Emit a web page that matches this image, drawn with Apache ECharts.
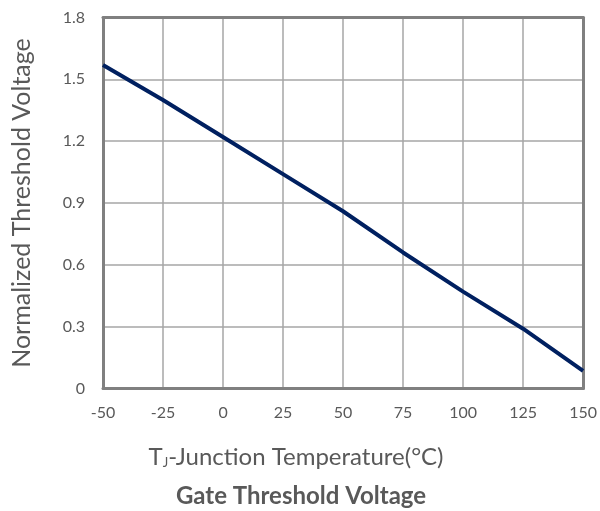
<!DOCTYPE html>
<html>
<head>
<meta charset="utf-8">
<script src="https://cdn.jsdelivr.net/npm/echarts@6/dist/echarts.min.js"></script>
<style>
html,body{margin:0;padding:0;background:#fff;}
#chart{width:600px;height:511px;}
</style>
</head>
<body>
<div id="chart"></div>
<script>
// Data
const temperature = [-50, -25, 0, 25, 50, 75, 100, 125, 150];
const normalizedVth = [1.57, 1.40, 1.22, 1.04, 0.86, 0.66, 0.47, 0.29, 0.085];
const xTickLabels = ['-50', '-25', '0', '25', '50', '75', '100', '125', '150'];
const yTickLabels = ['0', '0.3', '0.6', '0.9', '1.2', '1.5', '1.8'];
const chartTitle = 'Gate Threshold Voltage';
const yAxisName = 'Normalized Threshold Voltage';

const FONT = 'Lato';
const TXT = '#595959';
const FRAME = '#808080';
const GRIDC = '#a6a6a6';

const xMin = Number(xTickLabels[0]), xMax = Number(xTickLabels[xTickLabels.length - 1]);
const xStep = Number(xTickLabels[1]) - xMin;
const yMin = Number(yTickLabels[0]), yMax = Number(yTickLabels[yTickLabels.length - 1]);
const yStep = Number(yTickLabels[1]) - yMin;

const chart = echarts.init(document.getElementById('chart'), null, {renderer: 'canvas'});
chart.setOption({
  animation: false,
  backgroundColor: '#fff',
  title: [
    {
      text: '{n|T}{s|J}{n|-Junction Temperature(°C)}',
      left: 291, top: 440, textAlign: 'center',
      textStyle: {
        fontWeight: 'normal',
        rich: {
          n: {fontFamily: FONT, fontSize: 24, fontWeight: 'normal', color: TXT},
          s: {fontFamily: FONT, fontSize: 13, fontWeight: 'normal', color: TXT, verticalAlign: 'bottom', padding: [9, 0, 0, 0]}
        }
      }
    },
    {
      text: chartTitle,
      left: 296, top: 479, textAlign: 'center',
      textStyle: {fontFamily: FONT, fontSize: 24, fontWeight: 'bold', color: TXT}
    }
  ],
  grid: {left: 103, right: 16, top: 17.5, bottom: 122.5, containLabel: false},
  xAxis: [
    {
      type: 'value', min: xMin, max: xMax, interval: xStep,
      axisLine: {show: true, onZero: false, lineStyle: {color: FRAME, width: 3}},
      axisTick: {show: false},
      splitLine: {show: true, lineStyle: {color: GRIDC, width: 1.5}},
      axisLabel: {
        margin: 16, fontFamily: FONT, fontSize: 16, color: TXT,
        formatter: v => xTickLabels[Math.round((v - xMin) / xStep)]
      }
    },
    {
      type: 'value', position: 'top', min: xMin, max: xMax, interval: xStep,
      axisLine: {show: true, onZero: false, lineStyle: {color: FRAME, width: 3}},
      axisTick: {show: false}, axisLabel: {show: false}, splitLine: {show: false}
    }
  ],
  yAxis: [
    {
      type: 'value', min: yMin, max: yMax, interval: yStep,
      name: yAxisName, nameLocation: 'middle', nameGap: 69, nameRotate: 90,
      nameTextStyle: {fontFamily: FONT, fontSize: 25, color: TXT},
      axisLine: {show: true, onZero: false, lineStyle: {color: FRAME, width: 3}},
      axisTick: {show: false},
      splitLine: {show: true, lineStyle: {color: GRIDC, width: 1.5}},
      axisLabel: {
        margin: 18, fontFamily: FONT, fontSize: 16, color: TXT,
        formatter: v => yTickLabels[Math.round((v - yMin) / yStep)]
      }
    },
    {
      type: 'value', position: 'right', min: yMin, max: yMax, interval: yStep,
      axisLine: {show: true, onZero: false, lineStyle: {color: FRAME, width: 3}},
      axisTick: {show: false}, axisLabel: {show: false}, splitLine: {show: false}
    }
  ],
  series: [{
    type: 'line',
    xAxisIndex: 0, yAxisIndex: 0,
    data: temperature.map((t, i) => [t, normalizedVth[i]]),
    showSymbol: false,
    symbol: 'none',
    lineStyle: {color: '#002060', width: 4},
    z: 5
  }]
});
</script>
</body>
</html>
